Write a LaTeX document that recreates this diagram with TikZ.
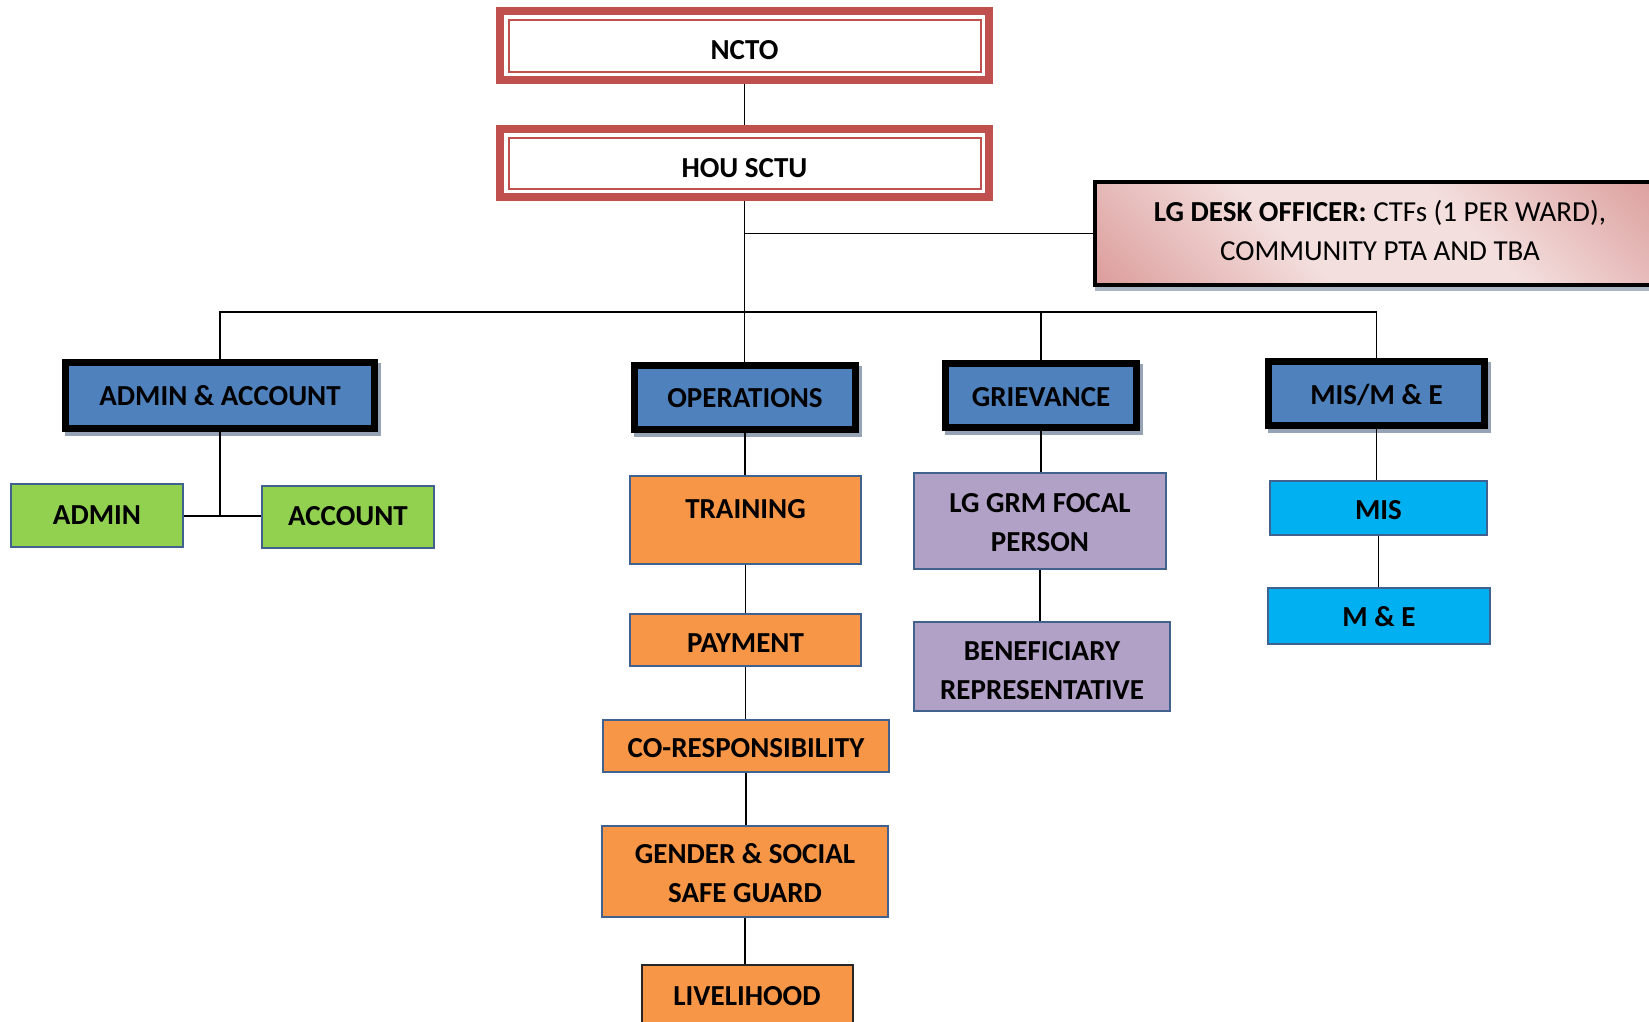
\documentclass[tikz,border=0pt]{standalone}
\usepackage{fontspec}
\setmainfont{Carlito}
\usetikzlibrary{shadows}
\definecolor{redc}{HTML}{C0504D}
\definecolor{deptblue}{HTML}{4F81BD}
\definecolor{outlinec}{HTML}{41628F}
\definecolor{orangec}{HTML}{F79646}
\definecolor{greenc}{HTML}{92D050}
\definecolor{purplec}{HTML}{B2A1C7}
\definecolor{cyanc}{HTML}{00B0F0}
\definecolor{shadowc}{HTML}{96A3B5}
\definecolor{rosedark}{HTML}{D99694}
\definecolor{roselight}{HTML}{F3DFDE}
\pgfdeclarehorizontalshading{rosediag}{100bp}{color(0bp)=(rosedark); color(12bp)=(rosedark);
  color(40bp)=(roselight); color(60bp)=(roselight); color(88bp)=(rosedark); color(100bp)=(rosedark)}
\begin{document}
\begin{tikzpicture}[x=1pt,y=-1pt,
  every node/.style={font=\bfseries\fontsize{29}{39}\selectfont, align=center, inner sep=0pt},
  conn/.style={draw=black, line width=1.5pt},
  topbox/.style={draw=redc, line width=8pt, fill=white,
    path picture={\draw[redc, line width=2pt]
      ([xshift=8.5pt,yshift=-8.5pt]path picture bounding box.north west) rectangle
      ([xshift=-8.5pt,yshift=8.5pt]path picture bounding box.south east);}},
  deptbox/.style={draw=black, line width=7pt, fill=deptblue,
    drop shadow={shadow xshift=3pt, shadow yshift=-4pt, fill=shadowc, draw=shadowc, opacity=1}},
  lgbox/.style={draw=black, line width=4pt, shade, shading=rosediag, shading angle=45,
    drop shadow={shadow xshift=2pt, shadow yshift=-4pt, fill=shadowc!80, draw=shadowc!80, opacity=1}},
  colbox/.style={draw=outlinec, line width=1.5pt, fill=#1},
  % vertical placement of the lettering inside a box
  tpos/.style 2 args={text height=#1pt, text depth=#2pt},
]
\useasboundingbox (0,0) rectangle (1649,1021);
\clip (0,0) rectangle (1649,1021);
\fill[white] (0,0) rectangle (1649,1021);

% top of the hierarchy
\node[topbox, tpos={27.4}{0}, minimum width=489, minimum height=69] (ncto) at (744.5,45.5) {NCTO};
\node[topbox, tpos={29.6}{0}, minimum width=489, minimum height=68] (hou) at (744.5,163) {HOU SCTU};
\node[lgbox, tpos={58}{3.9}, minimum width=570, minimum height=103] (lg) at (1380,233.5)
  {LG DESK OFFICER: \mdseries CTFs (1 PER WARD),\\ \mdseries COMMUNITY PTA AND TBA};

% departments
\node[deptbox, minimum width=309, minimum height=66] (admacc) at (220,395.5) {ADMIN \& ACCOUNT};
\node[deptbox, tpos={19.5}{0}, minimum width=221, minimum height=64] (ops) at (745,397.5) {OPERATIONS};
\node[deptbox, tpos={21.5}{0}, minimum width=191, minimum height=64] (griev) at (1041,395.5) {GRIEVANCE};
\node[deptbox, tpos={21}{0}, minimum width=216, minimum height=64] (misme) at (1376.5,393.5) {MIS/M \& E};

% admin & account units
\node[colbox=greenc, tpos={19}{2}, minimum width=172, minimum height=63] (admin) at (97,515.5) {ADMIN};
\node[colbox=greenc, tpos={19}{2}, minimum width=172, minimum height=62] (account) at (348,517) {ACCOUNT};

% operations units
\node[colbox=orangec, minimum width=231, minimum height=88, text depth=22pt] (training) at (745.5,520) {TRAINING};
\node[colbox=orangec, tpos={25}{0}, minimum width=231, minimum height=52] (payment) at (745.5,640) {PAYMENT};
\node[colbox=orangec, tpos={23}{0}, minimum width=286, minimum height=52] (coresp) at (746,746) {CO-RESPONSIBILITY};
\node[colbox=orangec, tpos={62}{0}, minimum width=286, minimum height=91] (gender) at (745,871.5) {GENDER \& SOCIAL\\SAFE GUARD};
\node[colbox=orangec, draw=black!85, line width=2pt, minimum width=211, minimum height=62] (livelihood) at (747,996) {LIVELIHOOD};

% grievance units
\node[colbox=purplec, tpos={60}{0}, minimum width=252, minimum height=96] (grm) at (1040,521) {LG GRM FOCAL\\PERSON};
\node[colbox=purplec, tpos={66}{0}, minimum width=256, minimum height=89] (benef) at (1042,666.5) {BENEFICIARY\\REPRESENTATIVE};

% MIS / M&E units
\node[colbox=cyanc, tpos={23}{0}, minimum width=217, minimum height=54] (mis) at (1378.5,508) {MIS};
\node[colbox=cyanc, tpos={21}{0}, minimum width=222, minimum height=56] (me) at (1379,616) {M \& E};

% connectors
\coordinate (bus) at (0,312);
\coordinate (aj) at (0,516);
\draw[conn] (ncto.south) -- (hou.north);
\draw[conn] (hou.south) -- (hou.south |- ops.north);
\draw[conn] (lg.west) -- (lg.west -| hou.south);
\draw[conn] (admacc.north) -- (admacc.north |- bus) -- (misme.north |- bus) -- (misme.north);
\draw[conn] (griev.north) -- (griev.north |- bus);
\draw[conn] (admacc.south) -- (admacc.south |- aj);
\draw[conn] (admin.east |- aj) -- (account.west |- aj);
\draw[conn] (ops.south) -- (ops.south |- training.north);
\draw[conn] (training.south) -- (training.south |- payment.north);
\draw[conn] (payment.south) -- (payment.south |- coresp.north);
\draw[conn] (coresp.south) -- (coresp.south |- gender.north);
\draw[conn] (gender.south) -- (gender.south |- livelihood.north);
\draw[conn] (griev.south) -- (griev.south |- grm.north);
\draw[conn] (grm.south) -- (grm.south |- benef.north);
\draw[conn] (misme.south) -- (misme.south |- mis.north);
\draw[conn] (mis.south) -- (mis.south |- me.north);
\end{tikzpicture}
\end{document}
